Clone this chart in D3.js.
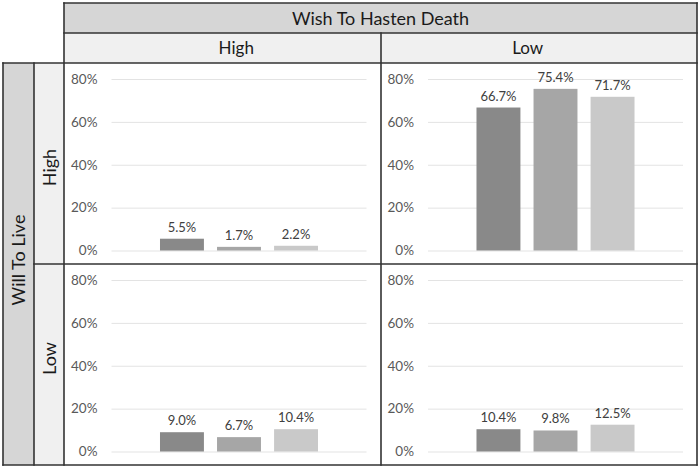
<!DOCTYPE html>
<html>
<head>
<meta charset="utf-8">
<script src="https://cdn.jsdelivr.net/npm/d3@7"></script>
<style>
  body { margin: 0; background: #fff; }
  text { font-family: Lato, "Open Sans", sans-serif; }
</style>
</head>
<body>
<div id="chart"></div>
<script>
// data
var wishLevels = ["High", "Low"];   // columns: Wish To Hasten Death
var willLevels = ["High", "Low"];   // rows: Will To Live
var seriesNames = ["s1", "s2", "s3"];
var willHighWishHigh = [5.5, 1.7, 2.2];
var willHighWishLow = [66.7, 75.4, 71.7];
var willLowWishHigh = [9.0, 6.7, 10.4];
var willLowWishLow = [10.4, 9.8, 12.5];
var yTicks = [0, 20, 40, 60, 80];

var panels = [
  {will: "High", wish: "High", values: willHighWishHigh},
  {will: "High", wish: "Low", values: willHighWishLow},
  {will: "Low", wish: "High", values: willLowWishHigh},
  {will: "Low", wish: "Low", values: willLowWishLow}
];

var colors = d3.scaleOrdinal().domain(seriesNames).range(["#898989", "#a6a6a6", "#c9c9c9"]);

var W = 700, H = 470;
var svg = d3.select("#chart").append("svg")
    .attr("width", W)
    .attr("height", H);

// grid layout of the panels
var colX = d3.scaleBand().domain(wishLevels).range([64, 697]);
var rowY = d3.scaleBand().domain(willLevels).range([63, 465]);
var stroke = "#333";

// header labels sit a little toward the middle divider, as in the source table
var colLabelShift = {High: 14, Low: -11};
var rowLabelShift = {High: 4, Low: -6};

// top header boxes
svg.append("rect")
    .attr("x", 64).attr("y", 3)
    .attr("width", 633).attr("height", 30)
    .attr("fill", "#d6d6d6");
svg.append("text")
    .attr("x", 64 + 633 / 2).attr("y", 25)
    .attr("text-anchor", "middle")
    .attr("font-size", 18)
    .attr("fill", "#1a1a1a")
    .text("Wish To Hasten Death");

wishLevels.forEach(function(w) {
  svg.append("rect")
      .attr("x", colX(w)).attr("y", 33)
      .attr("width", colX.bandwidth()).attr("height", 30)
      .attr("fill", "#f0f0f0");
  svg.append("text")
      .attr("x", colX(w) + colX.bandwidth() / 2 + colLabelShift[w]).attr("y", 54)
      .attr("text-anchor", "middle")
      .attr("font-size", 17)
      .attr("fill", "#1a1a1a")
      .text(w);
});

// left header boxes
svg.append("rect")
    .attr("x", 3).attr("y", 63)
    .attr("width", 31).attr("height", 402)
    .attr("fill", "#d6d6d6");
svg.append("text")
    .attr("transform", "translate(25,260) rotate(-90)")
    .attr("text-anchor", "middle")
    .attr("font-size", 18)
    .attr("fill", "#1a1a1a")
    .text("Will To Live");

willLevels.forEach(function(w) {
  svg.append("rect")
      .attr("x", 34).attr("y", rowY(w))
      .attr("width", 30).attr("height", rowY.bandwidth())
      .attr("fill", "#f0f0f0");
  svg.append("text")
      .attr("transform", "translate(56," + (rowY(w) + rowY.bandwidth() / 2 + rowLabelShift[w]) + ") rotate(-90)")
      .attr("text-anchor", "middle")
      .attr("font-size", 18)
      .attr("fill", "#1a1a1a")
      .text(w);
});

// panels
panels.forEach(function(p) {
  var px = colX(p.wish), py = rowY(p.will);
  var g = svg.append("g").attr("transform", "translate(" + px + "," + py + ")");

  var y = d3.scaleLinear().domain([0, 80]).range([187.5, 16]);
  var x = d3.scaleBand().domain(seriesNames)
      .range([47.5, 302.5])
      .paddingInner(0.23)
      .paddingOuter(0.85);

  var yAxis = g.append("g")
      .attr("transform", "translate(47.5,0)")
      .call(d3.axisLeft(y)
        .tickValues(yTicks)
        .tickSize(-255)
        .tickPadding(14)
        .tickFormat(function(d) { return d + "%"; }));
  yAxis.select(".domain").remove();
  yAxis.selectAll(".tick line").attr("stroke", "#e3e3e3");
  yAxis.selectAll(".tick text")
      .attr("fill", "#595959")
      .attr("font-size", 13.5)
      .style("font-family", "Lato, 'Open Sans', sans-serif");

  var data = seriesNames.map(function(s, i) { return {s: s, v: p.values[i]}; });

  g.selectAll(".bar")
      .data(data)
      .enter()
      .append("rect")
        .attr("class", "bar")
        .attr("x", d => x(d.s))
        .attr("y", d => y(d.v))
        .attr("width", x.bandwidth())
        .attr("height", d => y(0) - y(d.v))
        .attr("fill", d => colors(d.s));

  g.selectAll(".lbl")
      .data(data)
      .enter()
      .append("text")
        .attr("class", "lbl")
        .attr("x", d => x(d.s) + x.bandwidth() / 2)
        .attr("y", d => y(d.v) - 7)
        .attr("text-anchor", "middle")
        .attr("font-size", 13)
        .attr("fill", "#404040")
        .text(d => d.v.toFixed(1) + "%");
});

// border lines
var lines = [
  [64, 3, 697, 3], [64, 33, 697, 33], [3, 63, 697, 63],
  [34, 264, 697, 264], [3, 465, 697, 465],
  [64, 3, 64, 465], [697, 3, 697, 465], [381, 33, 381, 465],
  [3, 63, 3, 465], [34, 63, 34, 465]
];
svg.append("g").selectAll("line")
    .data(lines)
    .enter()
    .append("line")
      .attr("x1", d => d[0]).attr("y1", d => d[1])
      .attr("x2", d => d[2]).attr("y2", d => d[3])
      .attr("stroke", stroke)
      .attr("stroke-width", 1.6)
      .attr("stroke-linecap", "square");
</script>
</body>
</html>
